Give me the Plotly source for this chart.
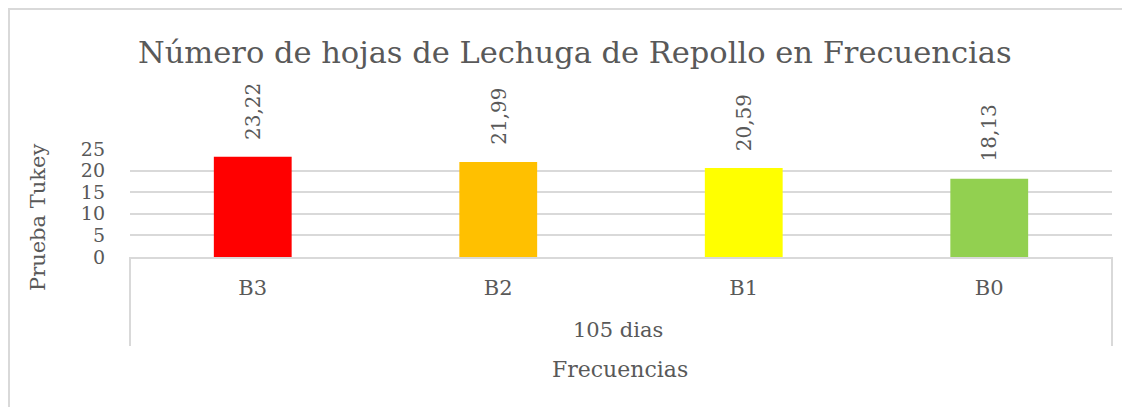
import plotly.graph_objects as go

categories = ["B3", "B2", "B1", "B0"]
values = [23.22, 21.99, 20.59, 18.13]
value_labels = ["23,22", "21,99", "20,59", "18,13"]
colors = ["#FF0000", "#FFC000", "#FFFF00", "#92D050"]
y_ticks = [0, 5, 10, 15, 20, 25]
group_label = "105 dias"
title = "Número de hojas de Lechuga de Repollo en Frecuencias"
x_title = "Frecuencias"
y_title = "Prueba Tukey"

FONT = "DejaVu Serif"
GRAY = "#595959"
OFF = 8  # page body margin
W, H = 1130 - OFF, 407 - OFF
# target plot area (page pixels)
PX0, PX1, PY0, PY1 = 130, 1112, 149, 257
L, T = PX0 - OFF, PY0 - OFF
R = W - (PX1 - OFF)
B = H - (PY1 - OFF)
pw = PX1 - PX0
ph = PY1 - PY0


def fx(px):
    return (px - PX0) / pw


def fy(py):
    return (PY1 - py) / ph


fig = go.Figure()
fig.add_trace(go.Bar(x=categories, y=values, marker=dict(color=colors, line=dict(width=0)),
                     hoverinfo="skip"))

ann = []
for c, v, lab in zip(categories, values, value_labels):
    ann.append(dict(x=c, y=v, xref="x", yref="y", text=lab, textangle=-90,
                    showarrow=False, yanchor="bottom", xanchor="center", yshift=15,
                    font=dict(family=FONT, size=20, color=GRAY)))

ann.append(dict(x=fx(618), y=fy(330), xref="paper", yref="paper", text=group_label,
                showarrow=False, xanchor="center", yanchor="middle",
                font=dict(family=FONT, size=21, color=GRAY)))
ann.append(dict(x=fx(620), y=fy(369), xref="paper", yref="paper", text=x_title,
                showarrow=False, xanchor="center", yanchor="middle",
                font=dict(family=FONT, size=22, color=GRAY)))
ann.append(dict(x=fx(38), y=fy(218), xref="paper", yref="paper", text=y_title,
                textangle=-90, showarrow=False, xanchor="center", yanchor="middle",
                font=dict(family=FONT, size=21, color=GRAY)))
ann.append(dict(x=fx(575), y=fy(52), xref="paper", yref="paper", text=title,
                showarrow=False, xanchor="center", yanchor="middle",
                font=dict(family=FONT, size=30.5, color=GRAY)))

shapes = [
    dict(type="line", xref="paper", yref="paper", x0=0, x1=0, y0=0, y1=fy(346),
         line=dict(color="#d9d9d9", width=2)),
    dict(type="line", xref="paper", yref="paper", x0=1, x1=1, y0=0, y1=fy(346),
         line=dict(color="#d9d9d9", width=2)),
    dict(type="rect", xref="paper", yref="paper", x0=fx(9), x1=fx(1140),
         y0=fy(420), y1=fy(9), line=dict(color="#d9d9d9", width=2),
         layer="below"),
]

fig.update_layout(
    width=W, height=H,
    margin=dict(l=L, r=R, t=T, b=B),
    paper_bgcolor="white", plot_bgcolor="white",
    bargap=0.683,
    showlegend=False,
    annotations=ann,
    shapes=shapes,
    xaxis=dict(showgrid=False, showline=True, linecolor="#d9d9d9", linewidth=2,
               ticks="", tickfont=dict(family=FONT, size=21, color=GRAY),
               ticklabelstandoff=11, fixedrange=True),
    yaxis=dict(range=[0, 25], tickvals=y_ticks, showgrid=True, gridcolor="#d9d9d9",
               gridwidth=2, zeroline=False, showline=False, ticks="",
               tickfont=dict(family=FONT, size=19, color=GRAY), ticklabelstandoff=24,
               fixedrange=True),
)

fig.write_html("out.html")
